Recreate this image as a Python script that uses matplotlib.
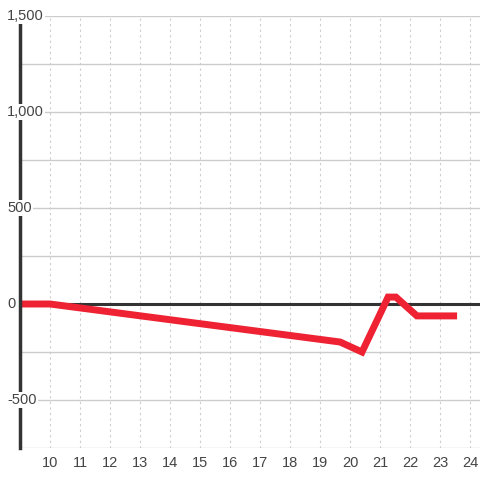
import matplotlib
matplotlib.use("Agg")
import matplotlib.pyplot as plt

plt.rcParams['font.family'] = ['Liberation Sans', 'DejaVu Sans']

# data
x_vals = [9, 10, 19.67, 20.4, 21.27, 21.53, 22.23, 23.57]
y_vals = [0, 0, -198, -250, 36, 36, -62, -62]
x_ticks = list(range(10, 25))
y_ticks = [-500, 0, 500, 1000, 1500]
y_labels = ['-500', '0', '500', '1,000', '1,500']

W, H = 480, 480
fig = plt.figure(figsize=(4.8, 4.8), dpi=100)
ax = fig.add_axes([20 / W, 32 / H, 460 / W, 432 / H])
ax.set_xlim(9, 9 + 460 / 30)
ax.set_ylim(-750, 1500)

# grid
for yy in range(-750, 1501, 250):
    ax.axhline(yy, color='#cccccc', lw=1, zorder=0)
for xx in x_ticks:
    ax.axvline(xx, color='#cccccc', lw=0.8, ls=(0, (2, 3)), zorder=0)

ax.axhline(0, color='#333333', lw=2.2, zorder=1)

ax.plot(x_vals, y_vals, color='#ee2233', lw=5, solid_joinstyle='miter',
        solid_capstyle='butt', zorder=2)

for s in ['top', 'right', 'bottom']:
    ax.spines[s].set_visible(False)
ax.spines['left'].set_color('#333333')
ax.spines['left'].set_linewidth(2.5)

ax.set_yticks([])
ax.set_xticks(x_ticks)
ax.tick_params(axis='x', length=0, labelsize=10.5, labelcolor='#444444', pad=6)

trans = ax.get_yaxis_transform()
for v, lab in zip(y_ticks, y_labels):
    ax.text(-13 / 460, v, lab, transform=trans, ha='left', va='center',
            fontsize=10.5, color='#444444', zorder=5, clip_on=False,
            bbox=dict(facecolor='white', edgecolor='none', pad=1))

fig.savefig('out.png', dpi=100, facecolor='white')
